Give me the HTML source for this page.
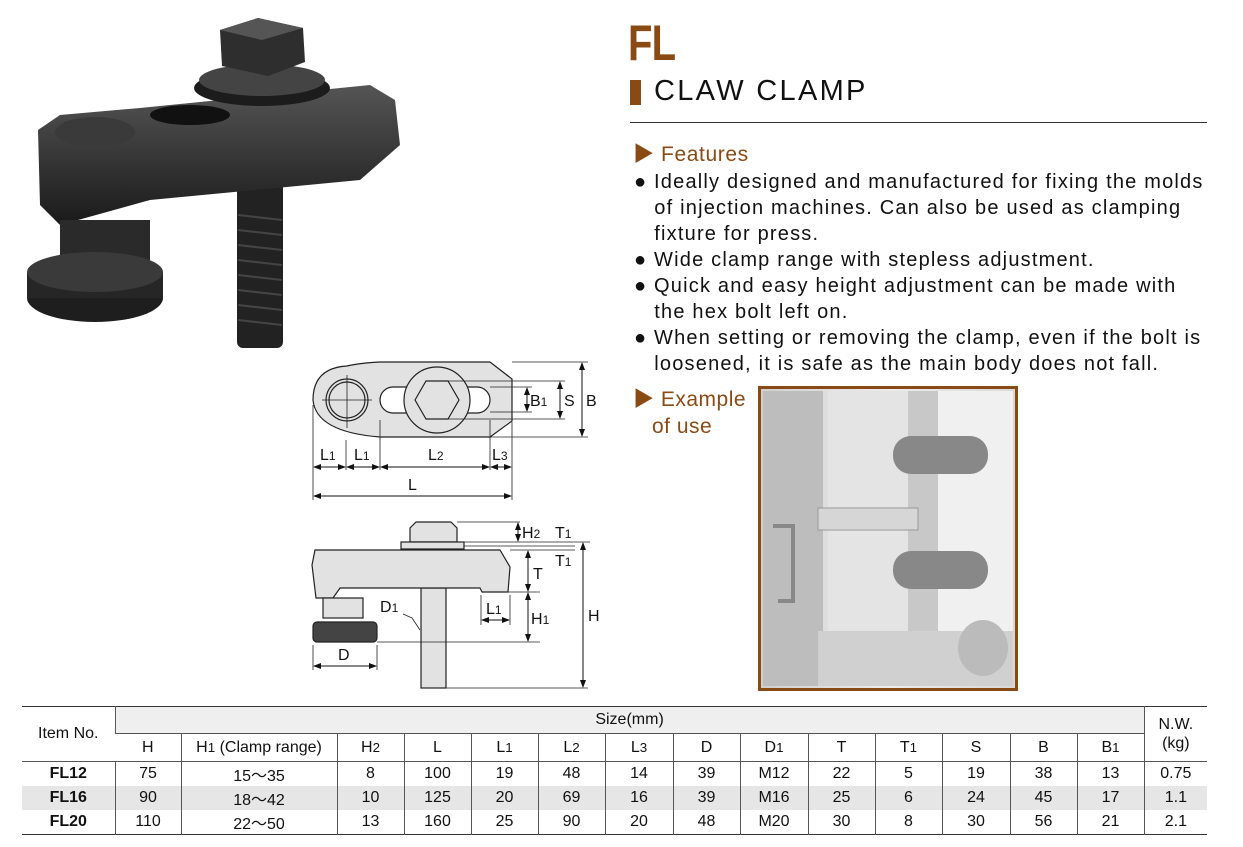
<!DOCTYPE html>
<html><head><meta charset="utf-8"><style>
body{margin:0;width:1243px;height:847px;background:#fff;position:relative;overflow:hidden;font-family:"Liberation Sans","Noto Sans CJK JP",sans-serif;color:#111}
.a{position:absolute;white-space:nowrap}
.br{color:#8a4a14}
table{position:absolute;left:22px;top:706px;border-collapse:collapse;font-size:16px;width:1185px;table-layout:fixed}
td{border-left:1px solid #555;text-align:center;padding:0;height:24px}
td:first-child{border-left:none}
tr.h1 td{height:26px}
tr.h2 td{height:27px;border-top:1px solid #555}
tr.r td{border-top:1px solid #555}
table{border-top:1.5px solid #333;border-bottom:1.5px solid #333}
.g td{background:#e6e6e6}
b{font-weight:bold}
.f{font-size:20px;line-height:26px;letter-spacing:1.2px;position:absolute;left:634px;top:169px}
.f div{white-space:nowrap}
</style></head><body>
<svg class="a" style="left:0;top:0" width="420" height="360">
<defs><linearGradient id="bd" x1="0" y1="0" x2="0" y2="1"><stop offset="0" stop-color="#555"/><stop offset="1" stop-color="#1a1a1a"/></linearGradient></defs>
<rect x="237" y="170" width="46" height="178" rx="6" fill="#222"/>
<g stroke="#444" stroke-width="2">
<line x1="238" y1="215" x2="282" y2="220"/><line x1="238" y1="230" x2="282" y2="235"/><line x1="238" y1="245" x2="282" y2="250"/><line x1="238" y1="260" x2="282" y2="265"/><line x1="238" y1="275" x2="282" y2="280"/><line x1="238" y1="290" x2="282" y2="295"/><line x1="238" y1="305" x2="282" y2="310"/><line x1="238" y1="320" x2="282" y2="325"/></g>
<path d="M38,130 L60,115 L140,108 L370,85 L395,100 L400,145 L360,180 L150,200 L60,225 L40,205 Z" fill="url(#bd)"/>
<ellipse cx="95" cy="132" rx="40" ry="15" fill="#3a3a3a"/>
<ellipse cx="190" cy="115" rx="40" ry="10" fill="#111"/>
<rect x="60" y="220" width="90" height="45" fill="#2a2a2a"/>
<ellipse cx="95" cy="298" rx="68" ry="24" fill="#1e1e1e"/>
<rect x="27" y="272" width="136" height="26" fill="#262626"/>
<ellipse cx="95" cy="272" rx="68" ry="20" fill="#3a3a3a"/>
<ellipse cx="262" cy="88" rx="68" ry="18" fill="#1c1c1c"/>
<ellipse cx="262" cy="80" rx="63" ry="16" fill="#444"/>
<path d="M220,30 L258,18 L303,28 L305,62 L268,76 L222,66 Z" fill="#2e2e2e"/>
<path d="M220,30 L258,18 L303,28 L262,40 Z" fill="#555"/>
</svg>
<div class="a br" style="left:628px;top:14px;font-size:50px;font-weight:bold;letter-spacing:-1px;transform:scaleX(0.8);transform-origin:left">FL</div>
<div class="a" style="left:630px;top:80px;width:11px;height:25px;background:#8a4a14"></div>
<div class="a" style="left:654px;top:75px;font-size:29px;letter-spacing:2.3px">CLAW CLAMP</div>
<div class="a" style="left:630px;top:122px;width:577px;height:1px;background:#333"></div>
<div class="a br" style="left:633px;top:138px;font-size:21px;letter-spacing:0.6px">▶ Features</div>
<div class="f">
<div>● Ideally designed and manufactured for fixing the molds</div>
<div>&nbsp; &nbsp;of injection machines. Can also be used as clamping</div>
<div>&nbsp; &nbsp;fixture for press.</div>
<div>● Wide clamp range with stepless adjustment.</div>
<div>● Quick and easy height adjustment can be made with</div>
<div>&nbsp; &nbsp;the hex bolt left on.</div>
<div>● When setting or removing the clamp, even if the bolt is</div>
<div>&nbsp; &nbsp;loosened, it is safe as the main body does not fall.</div>
</div>
<div class="a br" style="left:633px;top:386px;font-size:21px;line-height:27px;letter-spacing:0.5px">▶ Example<br>&nbsp;&nbsp;&nbsp;of use</div>
<svg class="a" style="left:758px;top:386px" width="260" height="305">
<defs><linearGradient id="ph" x1="0" y1="0" x2="1" y2="0"><stop offset="0" stop-color="#cfcfcf"/><stop offset="0.5" stop-color="#ececec"/><stop offset="1" stop-color="#d8d8d8"/></linearGradient></defs>
<rect x="1.5" y="1.5" width="257" height="302" fill="url(#ph)" stroke="#8a4a14" stroke-width="3"/>
<rect x="5" y="5" width="60" height="295" fill="#bdbdbd"/>
<rect x="70" y="5" width="80" height="295" fill="#e4e4e4"/>
<rect x="150" y="5" width="30" height="295" fill="#c8c8c8"/>
<rect x="180" y="5" width="75" height="295" fill="#f0f0f0"/>
<rect x="60" y="122" width="100" height="22" fill="#d6d6d6" stroke="#999"/>
<path d="M15,140 L35,140 L35,215 L20,215" fill="none" stroke="#888" stroke-width="4"/>
<rect x="135" y="50" width="95" height="38" rx="18" fill="#888"/>
<rect x="135" y="165" width="95" height="38" rx="18" fill="#888"/>
<rect x="60" y="245" width="195" height="55" fill="#d0d0d0"/>
<ellipse cx="225" cy="262" rx="25" ry="28" fill="#bbb"/>
</svg>
<svg class="a" style="left:0;top:0" width="640" height="700" font-family="Liberation Sans,sans-serif" font-size="16">
<defs><marker id="m" markerWidth="8" markerHeight="8" refX="7" refY="4" orient="auto-start-reverse"><path d="M0,1 L8,4 L0,7 Z" fill="#111"/></marker></defs>
<g stroke="#222" stroke-width="1.2">
<path d="M347,366 Q313,368 313,400 Q316,432 380,437 L490,437 L512,421 L512,379 L490,362 L380,362 Q360,363 347,366 Z" fill="#e2e2e2"/>
<circle cx="347" cy="400" r="21" fill="#e2e2e2"/><circle cx="347" cy="400" r="18" fill="none"/>
<rect x="380" y="387" width="110" height="26" rx="13" fill="#fff"/>
<circle cx="437" cy="400" r="33" fill="#e2e2e2"/>
<polygon points="415,400 426,381 448,381 459,400 448,419 426,419" fill="#e2e2e2"/>
</g>
<g stroke="#222" stroke-width="0.8" fill="none">
<line x1="322" y1="400" x2="372" y2="400"/><line x1="347" y1="375" x2="347" y2="428"/>
<line x1="448" y1="381" x2="565" y2="381"/><line x1="448" y1="419" x2="565" y2="419"/>
<line x1="490" y1="387" x2="532" y2="387"/><line x1="490" y1="412" x2="532" y2="412"/>
<line x1="512" y1="362" x2="588" y2="362"/><line x1="490" y1="437" x2="588" y2="437"/>
<line x1="313" y1="405" x2="313" y2="500"/><line x1="346" y1="440" x2="346" y2="470"/><line x1="380" y1="420" x2="380" y2="470"/><line x1="490" y1="420" x2="490" y2="470"/><line x1="512" y1="422" x2="512" y2="500"/>
</g>
<g stroke="#111" stroke-width="1" marker-start="url(#m)" marker-end="url(#m)">
<line x1="527" y1="388" x2="527" y2="411"/><line x1="560" y1="382" x2="560" y2="418"/><line x1="582" y1="363" x2="582" y2="436"/>
<line x1="314" y1="467" x2="345" y2="467"/><line x1="347" y1="467" x2="379" y2="467"/><line x1="381" y1="467" x2="489" y2="467"/><line x1="491" y1="467" x2="511" y2="467"/>
<line x1="314" y1="496" x2="511" y2="496"/>
</g>
<g fill="#111">
<text x="530" y="406">B<tspan font-size="12">1</tspan></text><text x="564" y="406">S</text><text x="586" y="406">B</text>
<text x="320" y="460">L<tspan font-size="12">1</tspan></text><text x="354" y="460">L<tspan font-size="12">1</tspan></text><text x="428" y="460">L<tspan font-size="12">2</tspan></text><text x="492" y="460">L<tspan font-size="12">3</tspan></text><text x="408" y="490">L</text>
</g>
<g stroke="#222" stroke-width="1.2">
<rect x="421" y="588" width="25" height="100" fill="#e2e2e2"/>
<path d="M410,528 L416,522 L451,522 L457,528 L457,542 L410,542 Z" fill="#e2e2e2"/>
<rect x="401" y="542" width="63" height="7" fill="#e2e2e2"/>
<path d="M315,550 L500,550 L510,567 L508,592 L482,592 L480,588 L340,588 L333,598 L316,598 L312,565 Z" fill="#e2e2e2"/>
<rect x="323" y="598" width="40" height="20" fill="#e2e2e2"/>
<rect x="313" y="622" width="64" height="20" rx="4" fill="#444"/>
</g>
<g stroke="#222" stroke-width="0.8" fill="none">
<line x1="457" y1="522" x2="520" y2="522"/><line x1="464" y1="542" x2="590" y2="542"/><line x1="464" y1="546" x2="575" y2="546"/><line x1="510" y1="550" x2="575" y2="550"/>
<line x1="508" y1="592" x2="540" y2="592"/><line x1="377" y1="642" x2="540" y2="642"/><line x1="446" y1="688" x2="588" y2="688"/>
<line x1="481" y1="595" x2="481" y2="625"/><line x1="510" y1="595" x2="510" y2="625"/>
<line x1="313" y1="645" x2="313" y2="670"/><line x1="377" y1="645" x2="377" y2="670"/>
<path d="M403,614 L412,618 L420,630"/>
</g>
<g stroke="#111" stroke-width="1" marker-start="url(#m)" marker-end="url(#m)">
<line x1="518" y1="523" x2="518" y2="541"/><line x1="528" y1="551" x2="528" y2="591"/><line x1="528" y1="593" x2="528" y2="641"/><line x1="583" y1="543" x2="583" y2="687"/>
<line x1="482" y1="620" x2="509" y2="620"/><line x1="314" y1="666" x2="376" y2="666"/>
</g>
<g fill="#111">
<text x="522" y="538">H<tspan font-size="12">2</tspan></text><text x="555" y="538">T<tspan font-size="12">1</tspan></text><text x="555" y="566">T<tspan font-size="12">1</tspan></text>
<text x="533" y="579">T</text><text x="531" y="624">H<tspan font-size="12">1</tspan></text><text x="588" y="621">H</text>
<text x="486" y="614">L<tspan font-size="12">1</tspan></text><text x="380" y="612">D<tspan font-size="12">1</tspan></text><text x="338" y="660">D</text>
</g>
</svg>
<table>
<colgroup><col style="width:93px"><col style="width:66px"><col style="width:156px"><col style="width:67px"><col style="width:67px"><col style="width:67px"><col style="width:67px"><col style="width:68px"><col style="width:67px"><col style="width:68px"><col style="width:67px"><col style="width:67px"><col style="width:68px"><col style="width:67px"><col style="width:67px"><col style="width:63px"></colgroup>
<tr class="h1"><td rowspan="2">Item No.</td><td colspan="14" style="background:#efefef">Size(mm)</td><td rowspan="2" style="line-height:19px">N.W.<br>(kg)</td></tr>
<tr class="h2"><td>H</td><td>H<small>1</small> (Clamp range)</td><td>H<small>2</small></td><td>L</td><td>L<small>1</small></td><td>L<small>2</small></td><td>L<small>3</small></td><td>D</td><td>D<small>1</small></td><td>T</td><td>T<small>1</small></td><td>S</td><td>B</td><td>B<small>1</small></td></tr>
<tr class="r"><td><b>FL12</b></td><td>75</td><td>15～35</td><td>8</td><td>100</td><td>19</td><td>48</td><td>14</td><td>39</td><td>M12</td><td>22</td><td>5</td><td>19</td><td>38</td><td>13</td><td>0.75</td></tr>
<tr class="g"><td><b>FL16</b></td><td>90</td><td>18～42</td><td>10</td><td>125</td><td>20</td><td>69</td><td>16</td><td>39</td><td>M16</td><td>25</td><td>6</td><td>24</td><td>45</td><td>17</td><td>1.1</td></tr>
<tr><td><b>FL20</b></td><td>110</td><td>22～50</td><td>13</td><td>160</td><td>25</td><td>90</td><td>20</td><td>48</td><td>M20</td><td>30</td><td>8</td><td>30</td><td>56</td><td>21</td><td>2.1</td></tr>
</table>
</body></html>
